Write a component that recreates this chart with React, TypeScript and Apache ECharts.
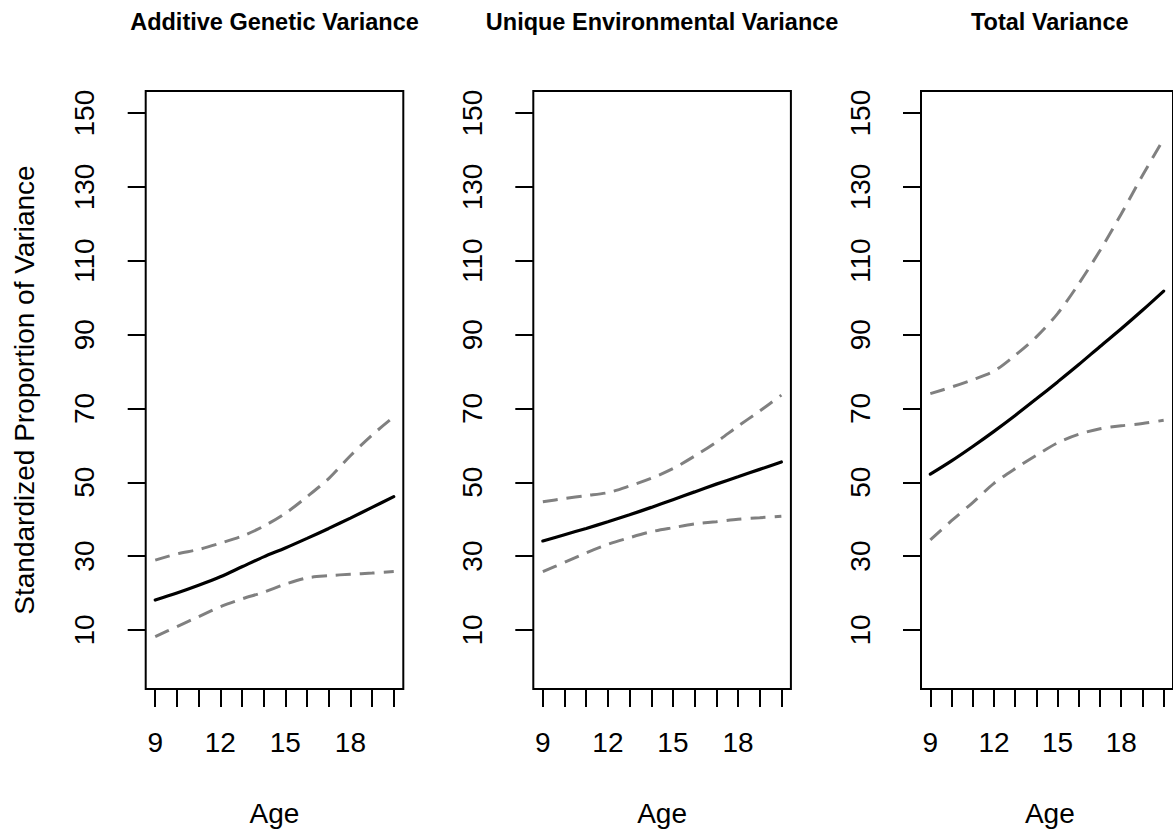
import React, { useEffect, useRef } from "react";
import * as echarts from "echarts";

const ages = [9, 10, 11, 12, 13, 14, 15, 16, 17, 18, 19, 20];
const ageLabels = [9, 12, 15, 18];
const yTicks = [10, 30, 50, 70, 90, 110, 130, 150];

const panelTitles = ["Additive Genetic Variance", "Unique Environmental Variance", "Total Variance"];

const addEst = [18.1, 20.0, 22.1, 24.4, 27.1, 29.8, 32.2, 34.8, 37.5, 40.3, 43.2, 46.1];
const addUpper = [28.9, 30.6, 31.8, 33.5, 35.4, 38.1, 41.6, 46.1, 51.0, 57.2, 62.8, 67.7];
const addLower = [8.2, 10.9, 13.6, 16.3, 18.4, 20.2, 22.4, 24.1, 24.7, 25.1, 25.4, 25.8];

const envEst = [34.1, 35.8, 37.5, 39.3, 41.2, 43.2, 45.3, 47.4, 49.5, 51.5, 53.5, 55.5];
const envUpper = [44.7, 45.6, 46.4, 47.2, 49.0, 51.1, 53.7, 57.1, 60.9, 65.2, 69.3, 73.6];
const envLower = [25.8, 28.3, 30.9, 33.2, 35.0, 36.6, 37.7, 38.7, 39.3, 40.0, 40.4, 40.8];

const totEst = [52.2, 55.8, 59.7, 63.8, 68.1, 72.6, 77.2, 81.9, 86.8, 91.6, 96.6, 101.8];
const totUpper = [74.0, 75.8, 77.8, 80.1, 84.4, 89.4, 95.7, 103.8, 112.8, 122.7, 133.1, 143.0];
const totLower = [34.4, 39.6, 44.5, 49.7, 53.7, 57.3, 60.7, 63.0, 64.5, 65.3, 65.9, 66.8];

const panels = [
  { est: addEst, upper: addUpper, lower: addLower },
  { est: envEst, upper: envUpper, lower: envLower },
  { est: totEst, upper: totUpper, lower: totLower },
];

const FONT = "'Liberation Sans', Arial, Helvetica, sans-serif";
const W = 1173;
const H = 831;
const GRID_LEFTS = [145.7, 533.3, 921];
const GRID_W = 257.6;
const GRID_TOP = 91;
const GRID_H = 598;

export default function App() {
  const ref = useRef<HTMLDivElement>(null);

  useEffect(() => {
    if (!ref.current) return;
    const chart = echarts.init(ref.current, undefined, { renderer: "svg" });

    const grids = GRID_LEFTS.map((l) => ({
      left: l,
      top: GRID_TOP,
      width: GRID_W,
      height: GRID_H,
      show: true,
      borderColor: "#000",
      borderWidth: 2,
      backgroundColor: "transparent",
      containLabel: false,
    }));

    const xAxes = GRID_LEFTS.map((_, i) => ({
      type: "value",
      gridIndex: i,
      position: "bottom",
      min: 8.56,
      max: 20.44,
      splitLine: { show: false },
      axisLine: { show: false, onZero: false },
      axisTick: {
        show: true,
        inside: false,
        customValues: ages,
        length: 18,
        lineStyle: { color: "#000", width: 2 },
      },
      axisLabel: {
        customValues: ageLabels,
        fontSize: 28,
        fontFamily: FONT,
        color: "#000",
        margin: 39,
      },
    }));

    const yAxes = GRID_LEFTS.map((_, i) => ({
      type: "value",
      gridIndex: i,
      position: "left",
      min: -6,
      max: 156,
      splitLine: { show: false },
      axisLine: { show: false, onZero: false },
      axisTick: {
        show: true,
        inside: false,
        customValues: yTicks,
        length: 18,
        lineStyle: { color: "#000", width: 2 },
      },
      axisLabel: {
        customValues: yTicks,
        rotate: 90,
        fontSize: 28,
        fontFamily: FONT,
        color: "#000",
        margin: 47,
      },
    }));

    const series: any[] = [];
    panels.forEach((p, i) => {
      const mk = (arr: number[]) => ages.map((a, j) => [a, arr[j]]);
      series.push({
        type: "line",
        xAxisIndex: i,
        yAxisIndex: i,
        data: mk(p.upper),
        symbol: "none",
        smooth: 0.3,
        lineStyle: { color: "#808080", width: 3, type: [15, 9], cap: "butt" },
      });
      series.push({
        type: "line",
        xAxisIndex: i,
        yAxisIndex: i,
        data: mk(p.lower),
        symbol: "none",
        smooth: 0.3,
        lineStyle: { color: "#808080", width: 3, type: [15, 9], cap: "butt" },
      });
      series.push({
        type: "line",
        xAxisIndex: i,
        yAxisIndex: i,
        data: mk(p.est),
        symbol: "none",
        smooth: 0.3,
        lineStyle: { color: "#000", width: 3.2, type: "solid", cap: "round" },
      });
    });

    const graphics: any[] = [];
    GRID_LEFTS.forEach((l, i) => {
      const cx = l + GRID_W / 2;
      graphics.push({
        type: "text",
        x: cx,
        y: 22,
        style: {
          text: panelTitles[i],
          font: `bold 23.5px ${FONT}`,
          fill: "#000",
          textAlign: "center",
          textVerticalAlign: "middle",
        },
      });
      graphics.push({
        type: "text",
        x: cx,
        y: 813,
        style: {
          text: "Age",
          font: `28px ${FONT}`,
          fill: "#000",
          textAlign: "center",
          textVerticalAlign: "middle",
        },
      });
    });
    graphics.push({
      type: "text",
      x: 24,
      y: GRID_TOP + GRID_H / 2,
      rotation: Math.PI / 2,
      style: {
        text: "Standardized Proportion of Variance",
        font: `28px ${FONT}`,
        fill: "#000",
        textAlign: "center",
        textVerticalAlign: "middle",
      },
    });

    chart.setOption({
      animation: false,
      backgroundColor: "#fff",
      grid: grids,
      xAxis: xAxes,
      yAxis: yAxes,
      series,
      graphic: graphics,
    });

    return () => chart.dispose();
  }, []);

  return (
    <div
      ref={ref}
      style={{ position: "absolute", left: 0, top: 0, width: W, height: H }}
    />
  );
}
